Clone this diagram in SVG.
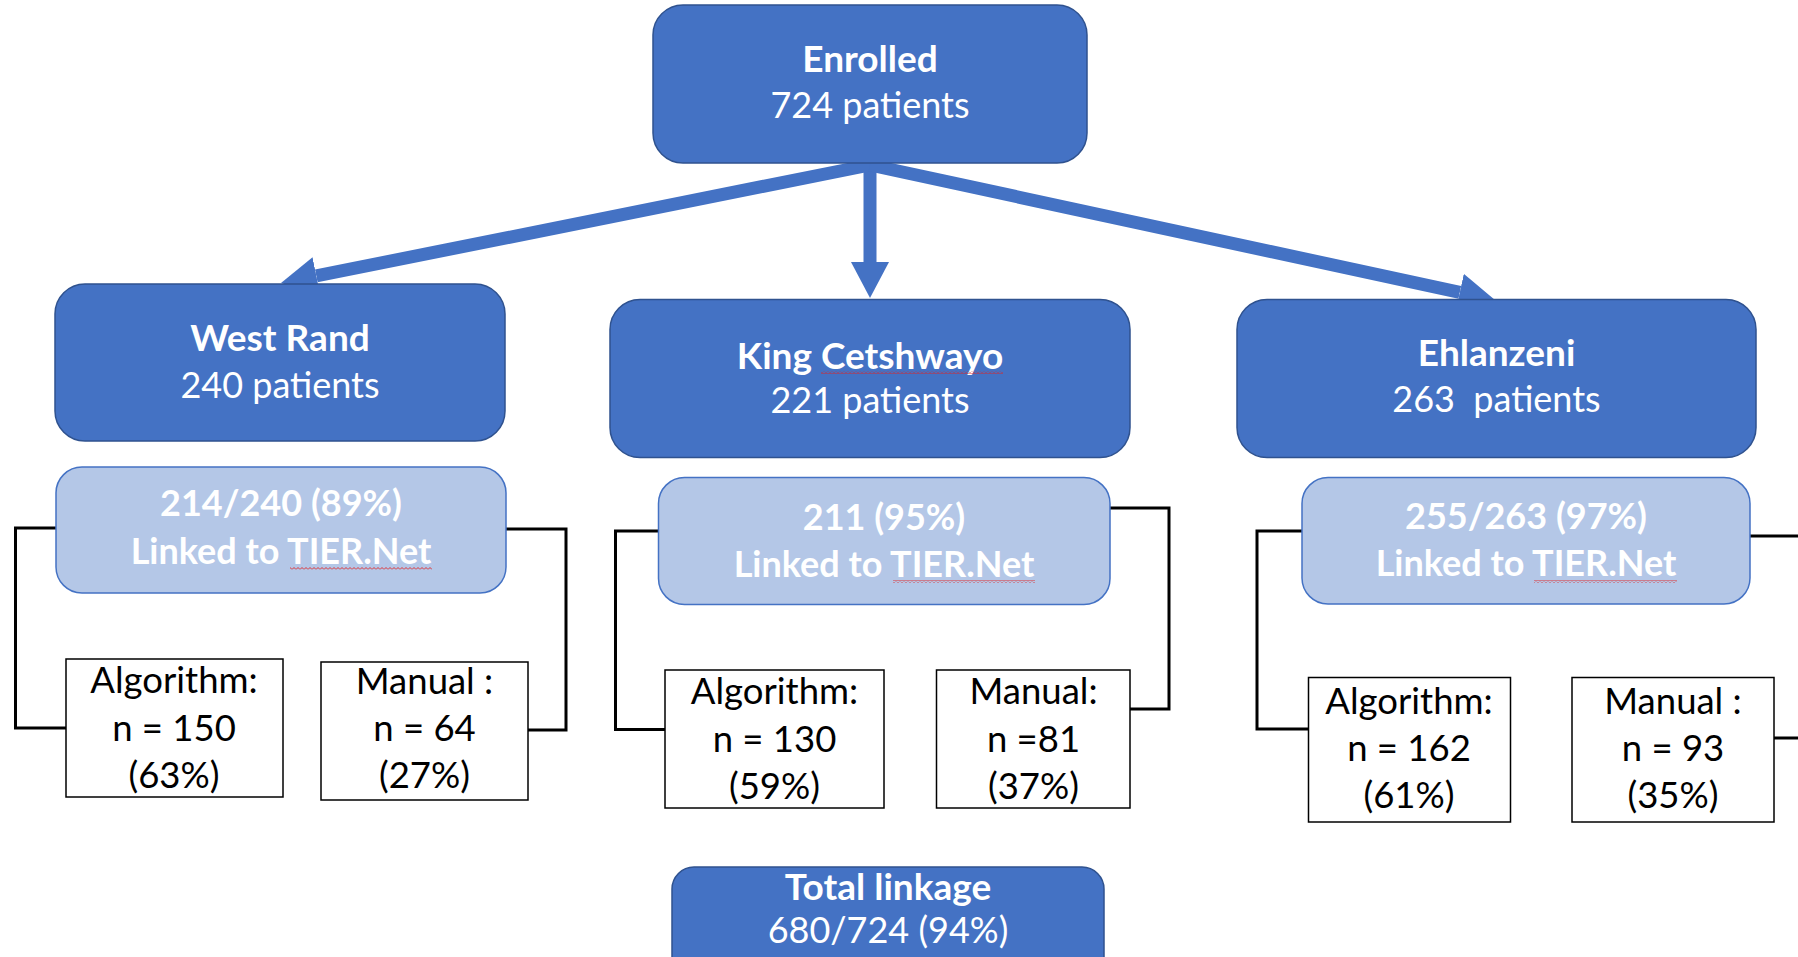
<svg xmlns="http://www.w3.org/2000/svg" width="1798" height="957" viewBox="0 0 1798 957">
  <style>
    .dark { fill: #4472C4; stroke: #2F528F; stroke-width: 1.5; }
    .light { fill: #B4C7E7; stroke: #4472C4; stroke-width: 1.5; }
    .plain { fill: #FFFFFF; stroke: #000000; stroke-width: 1.5; }
    .wt { font-family: Lato, "Open Sans", "Liberation Sans", sans-serif; fill: #FFFFFF; text-anchor: middle; white-space: pre; }
    .bt { font-family: Lato, "Open Sans", "Liberation Sans", sans-serif; fill: #000000; text-anchor: middle; font-size: 36.5px; }
    .title { font-size: 37px; font-weight: bold; }
    .count { font-size: 36px; }
    .sub { font-size: 36px; font-weight: bold; }
    .elbow { fill: none; stroke: #000000; stroke-width: 3; }
    .arrow { stroke: #4472C4; stroke-width: 13; fill: none; marker-end: url(#head); }
  </style>
  <defs>
    <marker id="head" markerUnits="userSpaceOnUse" markerWidth="36" markerHeight="38" viewBox="0 0 36 38" refX="0" refY="19" orient="auto">
      <path d="M0,0 L36,19 L0,38 Z" fill="#4472C4"/>
    </marker>
    <pattern id="squiggle" width="4" height="3" patternUnits="userSpaceOnUse">
      <path d="M0,2.5 L2,0.5 L4,2.5" fill="none" stroke="#E02020" stroke-width="0.9"/>
    </pattern>
  </defs>

  <rect width="1798" height="957" fill="#FFFFFF"/>

  <!-- connectors -->
  <g id="connectors">
    <line class="arrow" x1="870" y1="163" x2="870" y2="262"/>
    <line class="arrow" x1="870" y1="165" x2="316.3" y2="275.9"/>
    <line class="arrow" x1="870" y1="165" x2="1459.8" y2="292.4"/>

    <polyline class="elbow" points="56,528 15.5,528 15.5,728 66,728"/>
    <polyline class="elbow" points="506,529 566,529 566,730 528,730"/>

    <polyline class="elbow" points="658,531 615.5,531 615.5,729.5 665,729.5"/>
    <polyline class="elbow" points="1110,508 1169,508 1169,709 1130,709"/>

    <polyline class="elbow" points="1302,531 1257,531 1257,729 1308.5,729"/>
    <polyline class="elbow" points="1750,536 1798,536"/>
    <polyline class="elbow" points="1774,738 1798,738"/>
  </g>

  <!-- top node -->
  <g id="enrolled">
    <rect class="dark" x="653" y="5" width="434" height="158" rx="30"/>
    <text class="wt title" x="870" y="72">Enrolled</text>
    <text class="wt count" x="870" y="118">724 patients</text>
  </g>

  <!-- West Rand -->
  <g id="west-rand">
    <rect class="dark" x="55" y="284" width="450" height="157" rx="30"/>
    <text class="wt title" x="280" y="351">West Rand</text>
    <text class="wt count" x="280" y="398">240 patients</text>
  </g>
  <g id="west-rand-linked">
    <rect class="light" x="56" y="467" width="450" height="126" rx="26"/>
    <text class="wt sub" x="281" y="516">214/240 (89%)</text>
    <text class="wt sub" x="281" y="564">Linked to TIER.Net</text>
    <rect x="290" y="567" width="142" height="3" fill="url(#squiggle)"/>
  </g>
  <g id="west-rand-algorithm">
    <rect class="plain" x="66" y="659" width="217" height="138"/>
    <text class="bt" x="174" y="693">Algorithm:</text>
    <text class="bt" x="174" y="741">n = 150</text>
    <text class="bt" x="174" y="788">(63%)</text>
  </g>
  <g id="west-rand-manual">
    <rect class="plain" x="321" y="662" width="207" height="138"/>
    <text class="bt" x="424.5" y="694">Manual :</text>
    <text class="bt" x="424.5" y="741">n = 64</text>
    <text class="bt" x="424.5" y="788">(27%)</text>
  </g>

  <!-- King Cetshwayo -->
  <g id="king-cetshwayo">
    <rect class="dark" x="610" y="299.5" width="520" height="158" rx="30"/>
    <text class="wt title" x="870" y="369">King Cetshwayo</text>
    <text class="wt count" x="870" y="413">221 patients</text>
    <rect x="821" y="371" width="182" height="3" fill="url(#squiggle)"/>
  </g>
  <g id="king-cetshwayo-linked">
    <rect class="light" x="658.5" y="477.5" width="451.5" height="127" rx="26"/>
    <text class="wt sub" x="884" y="530">211 (95%)</text>
    <text class="wt sub" x="884" y="577">Linked to TIER.Net</text>
    <rect x="893" y="580" width="142" height="3" fill="url(#squiggle)"/>
  </g>
  <g id="king-cetshwayo-algorithm">
    <rect class="plain" x="665" y="670" width="219" height="138"/>
    <text class="bt" x="774.5" y="704">Algorithm:</text>
    <text class="bt" x="774.5" y="751.5">n = 130</text>
    <text class="bt" x="774.5" y="799">(59%)</text>
  </g>
  <g id="king-cetshwayo-manual">
    <rect class="plain" x="936.5" y="670" width="193.5" height="138"/>
    <text class="bt" x="1033.5" y="704">Manual:</text>
    <text class="bt" x="1033.5" y="751.5">n =81</text>
    <text class="bt" x="1033.5" y="799">(37%)</text>
  </g>

  <!-- Ehlanzeni -->
  <g id="ehlanzeni">
    <rect class="dark" x="1237" y="299.5" width="519" height="158" rx="30"/>
    <text class="wt title" x="1496.5" y="366">Ehlanzeni</text>
    <text class="wt count" x="1496.5" y="412">263  patients</text>
  </g>
  <g id="ehlanzeni-linked">
    <rect class="light" x="1302" y="477.5" width="448" height="126.5" rx="26"/>
    <text class="wt sub" x="1526" y="529">255/263 (97%)</text>
    <text class="wt sub" x="1526" y="576">Linked to TIER.Net</text>
    <rect x="1534" y="580" width="143" height="3" fill="url(#squiggle)"/>
  </g>
  <g id="ehlanzeni-algorithm">
    <rect class="plain" x="1308.5" y="677.5" width="202" height="144.5"/>
    <text class="bt" x="1409" y="713.5">Algorithm:</text>
    <text class="bt" x="1409" y="761">n = 162</text>
    <text class="bt" x="1409" y="808">(61%)</text>
  </g>
  <g id="ehlanzeni-manual">
    <rect class="plain" x="1572" y="677.5" width="202" height="144.5"/>
    <text class="bt" x="1673" y="713.5">Manual :</text>
    <text class="bt" x="1673" y="761">n = 93</text>
    <text class="bt" x="1673" y="808">(35%)</text>
  </g>

  <!-- overall total -->
  <g id="total-linkage">
    <rect class="dark" x="672" y="867" width="432" height="120" rx="22"/>
    <text class="wt title" x="888" y="900">Total linkage</text>
    <text class="wt count" x="888" y="943">680/724 (94%)</text>
  </g>
</svg>
